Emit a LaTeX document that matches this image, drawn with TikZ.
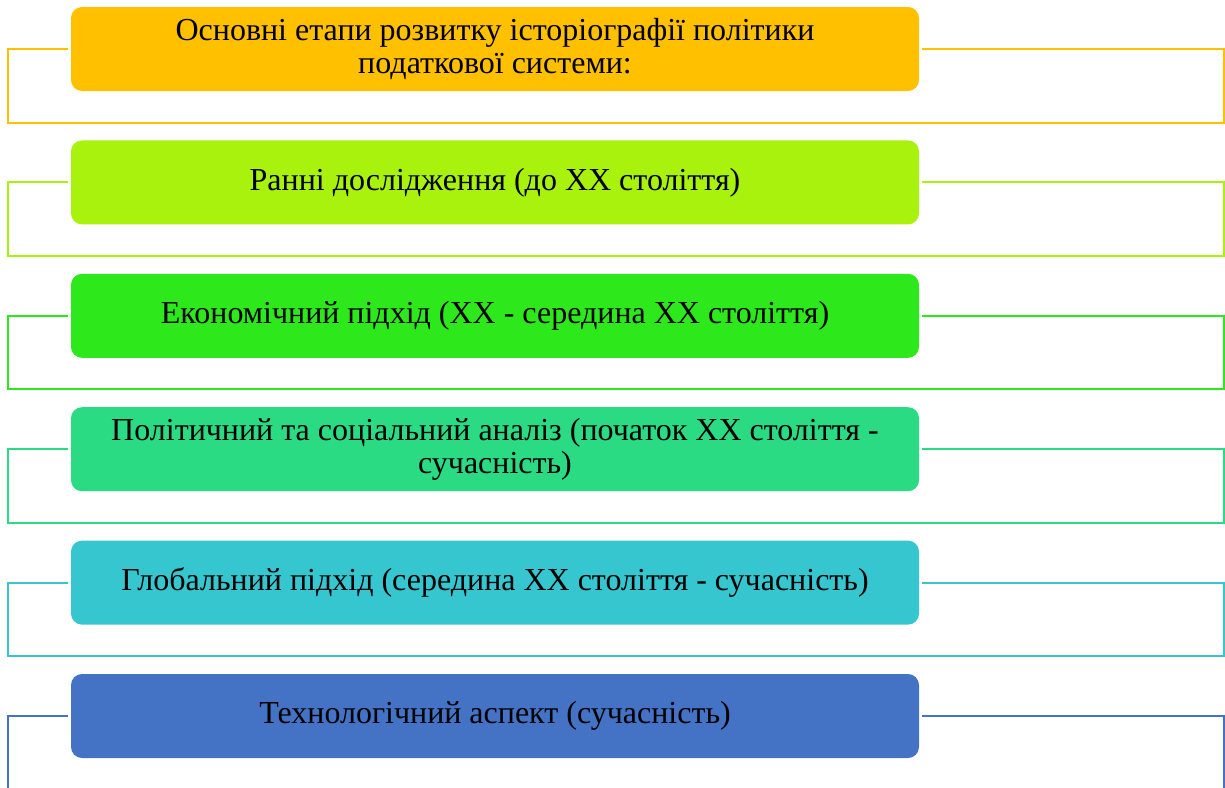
\documentclass[tikz,border=0pt]{standalone}
\usepackage{fontspec}
\setmainfont{Liberation Serif}
\definecolor{c1}{HTML}{FFC000}
\definecolor{c2}{HTML}{A9F20E}
\definecolor{c3}{HTML}{2DE81B}
\definecolor{c4}{HTML}{2ADB83}
\definecolor{c5}{HTML}{36C6D0}
\definecolor{c6}{HTML}{4472C4}
\tikzset{
  stagebox/.style={rectangle, rounded corners=11pt, minimum width=848pt, minimum height=84pt,
    inner sep=0pt, align=center, text=black, font=\fontsize{32}{33}\selectfont},
  frameline/.style={line width=2pt}
}
\begin{document}
\begin{tikzpicture}[x=1pt,y=-1pt]
\useasboundingbox (0,0) rectangle (1225,787);
\clip (0,0) rectangle (1225,787);
\foreach \i/\c/\t in {0/c1/{Основні етапи розвитку історіографії політики\\ податкової системи:},
                      1/c2/{Ранні дослідження (до XX століття)},
                      2/c3/{Економічний підхід (XX - середина XX століття)},
                      3/c4/{Політичний та соціальний аналіз (початок XX століття -\\ сучасність)},
                      4/c5/{Глобальний підхід (середина XX століття - сучасність)},
                      5/c6/{Технологічний аспект (сучасність)}}{
  \node[stagebox, fill=\c] (b\i) at (495, 49+133.4*\i) {\t};
  \draw[frameline, draw=\c] ([xshift=-3pt]b\i.west) -- ++(-59.5,0) -- ++(0,73.5)
     -- ++(1215.5,0) -- ++(0,-73.5) -- ([xshift=3pt]b\i.east);
}
\end{tikzpicture}
\end{document}
